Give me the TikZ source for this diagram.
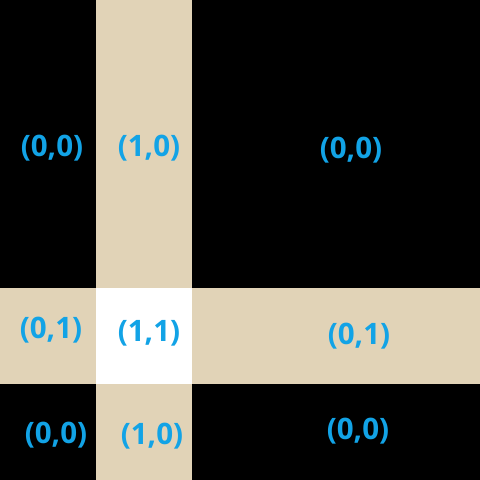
\documentclass[tikz,border=0pt]{standalone}
\usepackage{fontspec}
\setmainfont{Open Sans}
\usepackage{tikz}
\definecolor{labelblue}{HTML}{12A3E6}
\definecolor{tan}{HTML}{E1D3B7}
\tikzset{
  lbl/.style={font=\fontsize{21}{25}\selectfont\bfseries, text=labelblue, inner sep=0pt},
}
\begin{document}
\begin{tikzpicture}[x=0.025cm, y=-0.025cm]
\useasboundingbox (0,0) rectangle (480,480);
% cells
\fill[black] (0,0) rectangle (480,480);
\fill[tan] (96,0) rectangle (192,480);
\fill[tan] (0,288) rectangle (480,384);
\fill[white] (96,288) rectangle (192,384);

% labels
\node[lbl] (a00) at (52,148) {(0,0)};
\node[lbl] (b10) at (149,148) {(1,0)};
\node[lbl] (c00) at (351,150) {(0,0)};
\node[lbl] (a01) at (51,330) {(0,1)};
\node[lbl] (b11) at (149,333) {(1,1)};
\node[lbl] (c01) at (359,336) {(0,1)};
\node[lbl] (d00) at (56,435) {(0,0)};
\node[lbl] (e10) at (152,436) {(1,0)};
\node[lbl] (f00) at (358,431) {(0,0)};
\end{tikzpicture}
\end{document}
